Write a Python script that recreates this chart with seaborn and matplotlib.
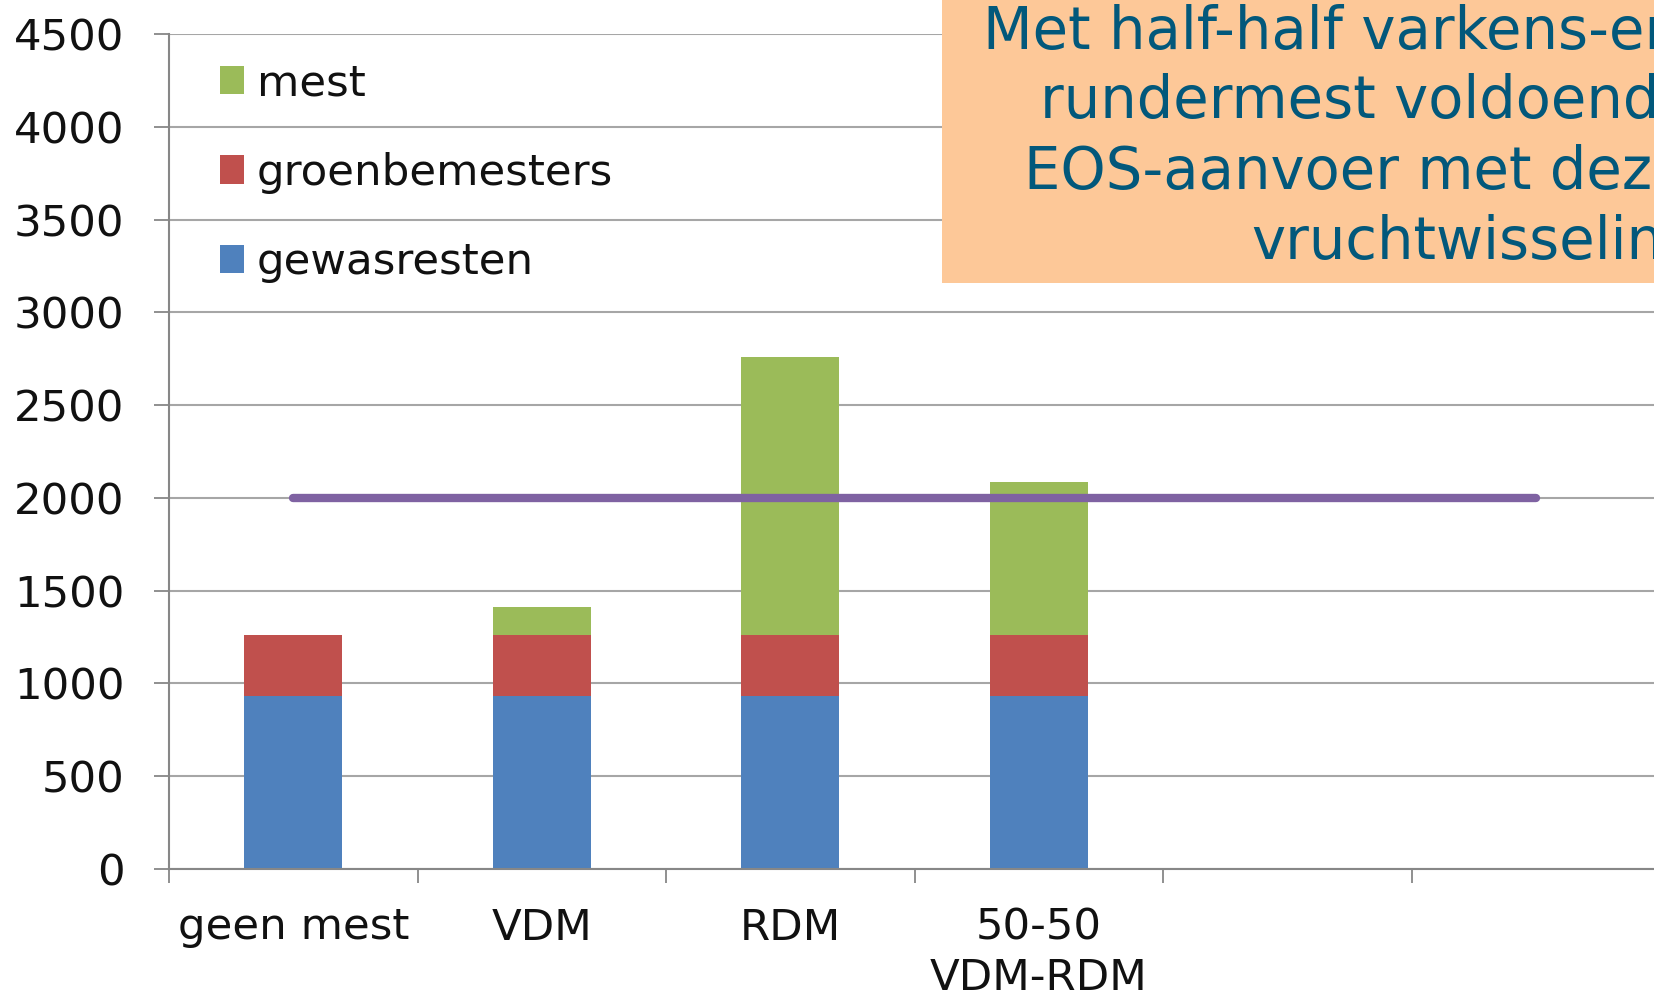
import numpy as np
import pandas as pd
import matplotlib
matplotlib.use("Agg")
import matplotlib.pyplot as plt
import seaborn as sns
from matplotlib.patches import Rectangle

# ---- data ----
categories = ["geen mest", "VDM", "RDM", "50-50\nVDM-RDM", "", ""]
gewasresten = [930, 930, 930, 930]
groenbemesters = [330, 330, 330, 330]
mest = [0, 150, 1500, 825]
norm_line = [2000, 2000, 2000, 2000, 2000, 2000]
yticks = [0, 500, 1000, 1500, 2000, 2500, 3000, 3500, 4000, 4500]
box_lines = ["Met half-half varkens-en", "rundermest voldoende",
             "EOS-aanvoer met deze", "vruchtwisseling"]

series_names = ["gewasresten", "groenbemesters", "mest"]
colors = {"gewasresten": "#4F81BD", "groenbemesters": "#C0504D", "mest": "#9BBB59"}

sns.set_theme(style="white")
plt.rcParams["font.family"] = ["DejaVu Sans"]

W, H = 1654, 999
fig = plt.figure(figsize=(W / 100, H / 100), dpi=100)
ax_left, ax_right = 169, 1660
ax_top, ax_bottom = 34, 869
ax = fig.add_axes([ax_left / W, 1 - ax_bottom / H, (ax_right - ax_left) / W, (ax_bottom - ax_top) / H])

pos = np.arange(len(gewasresten))
df = pd.DataFrame({"pos": pos, "gewasresten": gewasresten,
                   "groenbemesters": groenbemesters, "mest": mest})
df["lvl1"] = df["gewasresten"]
df["lvl2"] = df["gewasresten"] + df["groenbemesters"]
df["lvl3"] = df["lvl2"] + df["mest"]

sns.barplot(data=df, x="pos", y="lvl3", native_scale=True, width=0.395,
            color=colors["mest"], saturation=1, linewidth=0, label="mest", ax=ax, zorder=3)
sns.barplot(data=df, x="pos", y="lvl2", native_scale=True, width=0.395,
            color=colors["groenbemesters"], saturation=1, linewidth=0, label="groenbemesters", ax=ax, zorder=3)
sns.barplot(data=df, x="pos", y="lvl1", native_scale=True, width=0.395,
            color=colors["gewasresten"], saturation=1, linewidth=0, label="gewasresten", ax=ax, zorder=3)

line_df = pd.DataFrame({"pos": np.arange(len(categories)), "norm": norm_line})
sns.lineplot(data=line_df, x="pos", y="norm", color="#7F62A2", linewidth=6,
             solid_capstyle="round", ax=ax, zorder=4, legend=False)

ax.set_xlim(-0.5, len(categories) - 0.5)
ax.set_ylim(0, 4500)
ax.set_xlabel("")
ax.set_ylabel("")

# y axis
ax.set_yticks(yticks)
ax.set_yticklabels([str(v) for v in yticks])
ax.yaxis.grid(True, color="#A6A6A6", linewidth=1.5, zorder=0)
ax.xaxis.grid(False)
ax.set_axisbelow(True)
ax.tick_params(axis="y", which="major", direction="out", length=11, width=1.3,
               color="#878787", pad=21, labelsize=31.3, labelcolor="#111111", left=True)

# x axis: major ticks at category boundaries, labels at centres
ax.set_xticks(np.arange(len(categories) + 1) - 0.5)
ax.set_xticklabels([""] * (len(categories) + 1))
ax.set_xticks(np.arange(len(categories)), minor=True)
ax.set_xticklabels(categories, minor=True)
ax.tick_params(axis="x", which="major", direction="out", length=10, width=1.3,
               color="#878787", bottom=True)
ax.tick_params(axis="x", which="minor", length=0, pad=27, labelsize=31.3,
               labelcolor="#111111", bottom=True)
for t in ax.get_xticklabels(minor=True):
    t.set_linespacing(1.27)

for s in ["top", "right"]:
    ax.spines[s].set_visible(False)
for s in ["left", "bottom"]:
    ax.spines[s].set_color("#878787")
    ax.spines[s].set_linewidth(1.5)
    ax.spines[s].set_zorder(5)

# legend
handles, labels = ax.get_legend_handles_labels()
leg = ax.legend(handles, labels, loc="upper left", bbox_to_anchor=(0.034, 0.966),
                frameon=False, fontsize=31.3, handlelength=0.55, handleheight=0.62,
                handletextpad=0.3, labelspacing=1.09, borderpad=0, borderaxespad=0)
for t in leg.get_texts():
    t.set_color("#111111")

# annotation box
fig.add_artist(Rectangle((942 / W, 1 - 283 / H), 0.5, 0.3, transform=fig.transFigure,
                         facecolor="#FDC898", edgecolor="none", zorder=10))
line_x = [983, 1040, 1024, 1251]
line_base = [49, 118, 189, 259]
for txt, lx, lb in zip(box_lines, line_x, line_base):
    fig.text(lx / W, 1 - lb / H, txt, ha="left", va="baseline", fontsize=41.5,
             color="#02587B", zorder=11)

fig.savefig("out.png", dpi=100)
